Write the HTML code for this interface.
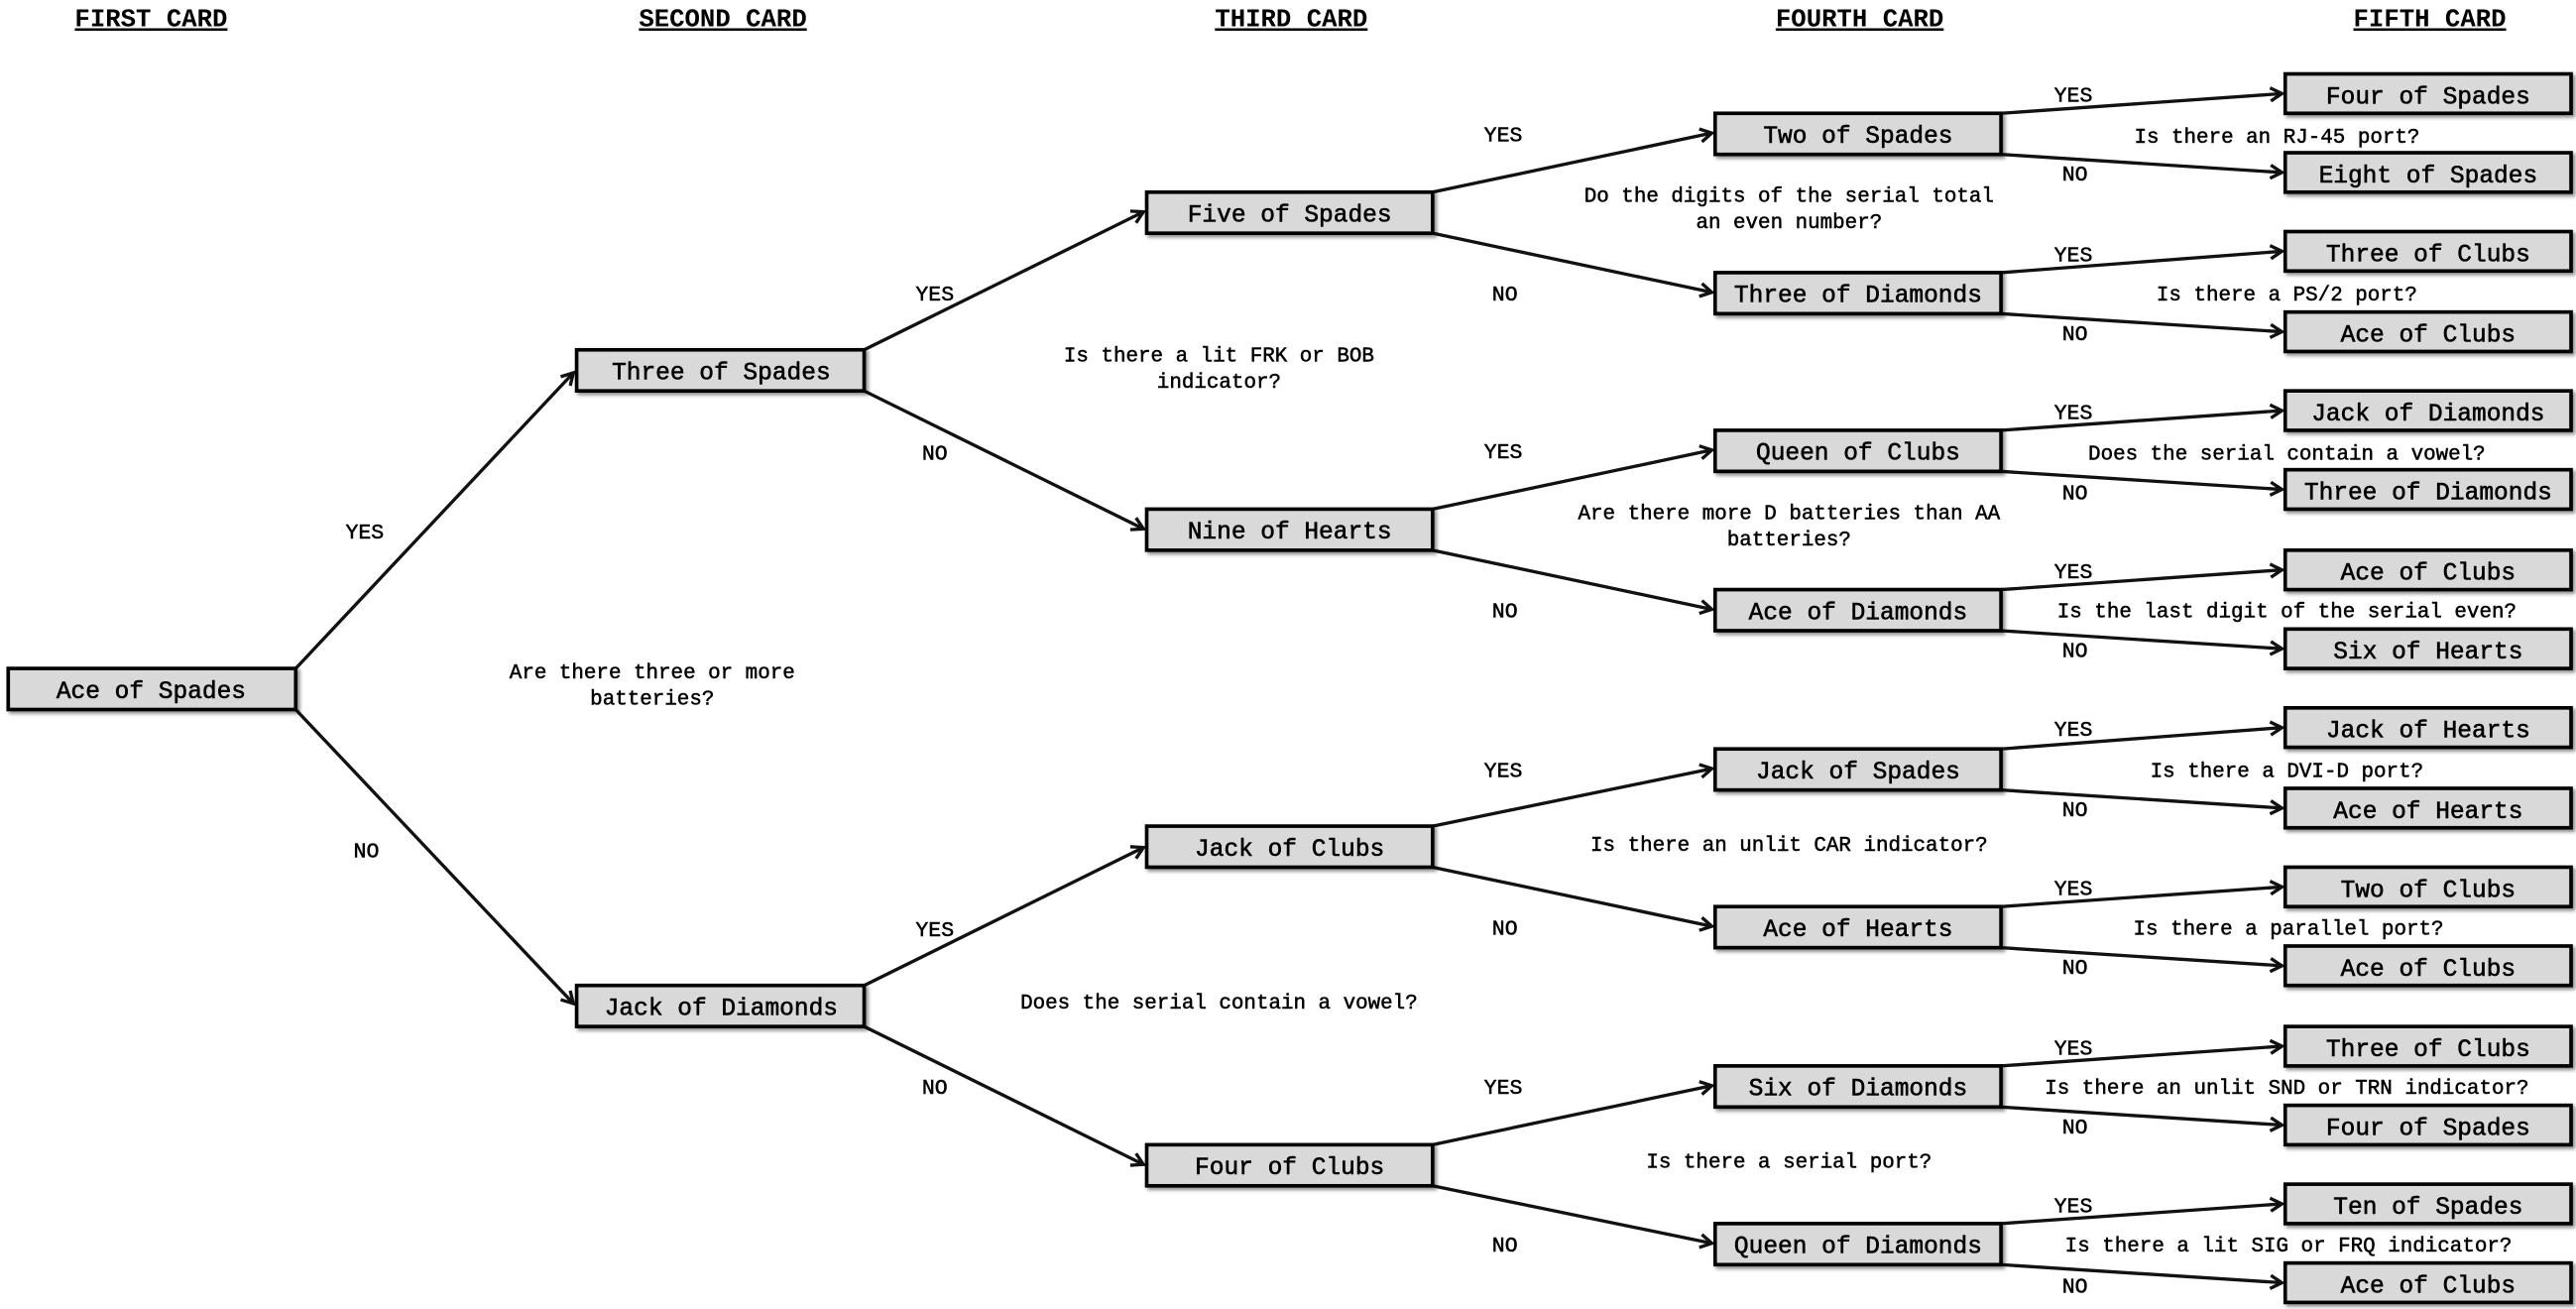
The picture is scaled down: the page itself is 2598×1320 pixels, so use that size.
<!DOCTYPE html>
<html><head><meta charset="utf-8"><style>
html,body{margin:0;padding:0;background:#fff;width:2598px;height:1320px;overflow:hidden}
svg{display:block}
text{font-family:"Liberation Mono",monospace;fill:#000}
.b{fill:#d9d9d9;stroke:#000;stroke-width:2.2}
.t{font-size:14.8px;text-anchor:middle;stroke:#000;stroke-width:0.35}
.l{font-size:13px;text-anchor:middle;stroke:#000;stroke-width:0.3}
.q{font-size:12.6px;text-anchor:middle;stroke:#000;stroke-width:0.3}
.h{font-size:15.5px;text-anchor:middle;font-weight:bold;text-decoration:underline}
.e{stroke:#111;stroke-width:2;fill:none;marker-end:url(#a)}
</style></head><body>
<svg width="2598" height="1320" viewBox="0 0 1568 797" preserveAspectRatio="none">
<defs>
<marker id="a" markerWidth="10" markerHeight="10" refX="8" refY="5" orient="auto" markerUnits="userSpaceOnUse">
<path d="M1,1 L8,5 L1,9" fill="none" stroke="#111" stroke-width="2"/></marker>
<filter id="s" x="-10%" y="-30%" width="125%" height="170%"><feDropShadow dx="1.5" dy="1.5" stdDeviation="1.2" flood-opacity="0.45"/></filter>
</defs>
<text class="h" x="92" y="16">FIRST CARD</text>
<text class="h" x="440" y="16">SECOND CARD</text>
<text class="h" x="786" y="16">THIRD CARD</text>
<text class="h" x="1132" y="16">FOURTH CARD</text>
<text class="h" x="1479" y="16">FIFTH CARD</text>

<path class="e" d="M180,407 L349,227"/><path class="e" d="M180,432 L349,611"/>
<path class="e" d="M526,213 L696,129"/><path class="e" d="M526,238 L696,322"/>
<path class="e" d="M526,600 L696,516"/><path class="e" d="M526,625 L696,709"/>
<path class="e" d="M872,117 L1042,81"/><path class="e" d="M872,142 L1042,178"/>
<path class="e" d="M872,310 L1042,274"/><path class="e" d="M872,335 L1042,371"/>
<path class="e" d="M872,503 L1042,468"/><path class="e" d="M872,528 L1042,564"/>
<path class="e" d="M872,697 L1042,661"/><path class="e" d="M872,722 L1042,757"/>
<path class="e" d="M1218,69 L1389,57"/><path class="e" d="M1218,94 L1389,105"/>
<path class="e" d="M1218,166 L1389,153"/><path class="e" d="M1218,191 L1389,202"/>
<path class="e" d="M1218,262 L1389,250"/><path class="e" d="M1218,287 L1389,298"/>
<path class="e" d="M1218,359 L1389,347"/><path class="e" d="M1218,384 L1389,395"/>
<path class="e" d="M1218,456 L1389,443"/><path class="e" d="M1218,481 L1389,492"/>
<path class="e" d="M1218,552 L1389,540"/><path class="e" d="M1218,577 L1389,588"/>
<path class="e" d="M1218,649 L1389,637"/><path class="e" d="M1218,674 L1389,685"/>
<path class="e" d="M1218,745 L1389,733"/><path class="e" d="M1218,770 L1389,781"/>

<g filter="url(#s)">
<rect class="b" x="5" y="407" width="175" height="25"/>
<rect class="b" x="351" y="213" width="175" height="25"/>
<rect class="b" x="351" y="600" width="175" height="25"/>
<rect class="b" x="698" y="117" width="174" height="25"/>
<rect class="b" x="698" y="310" width="174" height="25"/>
<rect class="b" x="698" y="503" width="174" height="25"/>
<rect class="b" x="698" y="697" width="174" height="25"/>
<rect class="b" x="1044" y="69" width="174" height="25"/>
<rect class="b" x="1044" y="166" width="174" height="25"/>
<rect class="b" x="1044" y="262" width="174" height="25"/>
<rect class="b" x="1044" y="359" width="174" height="25"/>
<rect class="b" x="1044" y="456" width="174" height="25"/>
<rect class="b" x="1044" y="552" width="174" height="25"/>
<rect class="b" x="1044" y="649" width="174" height="25"/>
<rect class="b" x="1044" y="745" width="174" height="25"/>
<rect class="b" x="1391" y="45" width="174" height="24"/>
<rect class="b" x="1391" y="93" width="174" height="24"/>
<rect class="b" x="1391" y="141" width="174" height="24"/>
<rect class="b" x="1391" y="190" width="174" height="24"/>
<rect class="b" x="1391" y="238" width="174" height="24"/>
<rect class="b" x="1391" y="286" width="174" height="24"/>
<rect class="b" x="1391" y="335" width="174" height="24"/>
<rect class="b" x="1391" y="383" width="174" height="24"/>
<rect class="b" x="1391" y="431" width="174" height="24"/>
<rect class="b" x="1391" y="480" width="174" height="24"/>
<rect class="b" x="1391" y="528" width="174" height="24"/>
<rect class="b" x="1391" y="576" width="174" height="24"/>
<rect class="b" x="1391" y="625" width="174" height="24"/>
<rect class="b" x="1391" y="673" width="174" height="24"/>
<rect class="b" x="1391" y="721" width="174" height="24"/>
<rect class="b" x="1391" y="769" width="174" height="24"/>
</g>

<text class="t" x="92" y="425">Ace of Spades</text>
<text class="t" x="439" y="231">Three of Spades</text>
<text class="t" x="439" y="618">Jack of Diamonds</text>
<text class="t" x="785" y="135">Five of Spades</text>
<text class="t" x="785" y="328">Nine of Hearts</text>
<text class="t" x="785" y="521">Jack of Clubs</text>
<text class="t" x="785" y="715">Four of Clubs</text>
<text class="t" x="1131" y="87">Two of Spades</text>
<text class="t" x="1131" y="184">Three of Diamonds</text>
<text class="t" x="1131" y="280">Queen of Clubs</text>
<text class="t" x="1131" y="377">Ace of Diamonds</text>
<text class="t" x="1131" y="474">Jack of Spades</text>
<text class="t" x="1131" y="570">Ace of Hearts</text>
<text class="t" x="1131" y="667">Six of Diamonds</text>
<text class="t" x="1131" y="763">Queen of Diamonds</text>
<text class="t" x="1478" y="63">Four of Spades</text>
<text class="t" x="1478" y="111">Eight of Spades</text>
<text class="t" x="1478" y="159">Three of Clubs</text>
<text class="t" x="1478" y="208">Ace of Clubs</text>
<text class="t" x="1478" y="256">Jack of Diamonds</text>
<text class="t" x="1478" y="304">Three of Diamonds</text>
<text class="t" x="1478" y="353">Ace of Clubs</text>
<text class="t" x="1478" y="401">Six of Hearts</text>
<text class="t" x="1478" y="449">Jack of Hearts</text>
<text class="t" x="1478" y="498">Ace of Hearts</text>
<text class="t" x="1478" y="546">Two of Clubs</text>
<text class="t" x="1478" y="594">Ace of Clubs</text>
<text class="t" x="1478" y="643">Three of Clubs</text>
<text class="t" x="1478" y="691">Four of Spades</text>
<text class="t" x="1478" y="739">Ten of Spades</text>
<text class="t" x="1478" y="787">Ace of Clubs</text>

<text class="l" x="222" y="328">YES</text><text class="l" x="223" y="522">NO</text>
<text class="l" x="569" y="183">YES</text><text class="l" x="569" y="280">NO</text>
<text class="l" x="569" y="570">YES</text><text class="l" x="569" y="666">NO</text>
<text class="l" x="915" y="86">YES</text><text class="l" x="916" y="183">NO</text>
<text class="l" x="915" y="279">YES</text><text class="l" x="916" y="376">NO</text>
<text class="l" x="915" y="473">YES</text><text class="l" x="916" y="569">NO</text>
<text class="l" x="915" y="666">YES</text><text class="l" x="916" y="762">NO</text>
<text class="l" x="1262" y="62">YES</text><text class="l" x="1263" y="110">NO</text>
<text class="l" x="1262" y="159">YES</text><text class="l" x="1263" y="207">NO</text>
<text class="l" x="1262" y="255">YES</text><text class="l" x="1263" y="304">NO</text>
<text class="l" x="1262" y="352">YES</text><text class="l" x="1263" y="400">NO</text>
<text class="l" x="1262" y="448">YES</text><text class="l" x="1263" y="497">NO</text>
<text class="l" x="1262" y="545">YES</text><text class="l" x="1263" y="593">NO</text>
<text class="l" x="1262" y="642">YES</text><text class="l" x="1263" y="690">NO</text>
<text class="l" x="1262" y="738">YES</text><text class="l" x="1263" y="787">NO</text>

<text class="q" x="397" y="413">Are there three or more</text>
<text class="q" x="397" y="429">batteries?</text>
<text class="q" x="742" y="220">Is there a lit FRK or BOB</text>
<text class="q" x="742" y="236">indicator?</text>
<text class="q" x="742" y="614">Does the serial contain a vowel?</text>
<text class="q" x="1089" y="123">Do the digits of the serial total</text>
<text class="q" x="1089" y="139">an even number?</text>
<text class="q" x="1089" y="316">Are there more D batteries than AA</text>
<text class="q" x="1089" y="332">batteries?</text>
<text class="q" x="1089" y="518">Is there an unlit CAR indicator?</text>
<text class="q" x="1089" y="711">Is there a serial port?</text>
<text class="q" x="1386" y="87">Is there an RJ-45 port?</text>
<text class="q" x="1392" y="183">Is there a PS/2 port?</text>
<text class="q" x="1392" y="280">Does the serial contain a vowel?</text>
<text class="q" x="1392" y="376">Is the last digit of the serial even?</text>
<text class="q" x="1392" y="473">Is there a DVI-D port?</text>
<text class="q" x="1393" y="569">Is there a parallel port?</text>
<text class="q" x="1392" y="666">Is there an unlit SND or TRN indicator?</text>
<text class="q" x="1393" y="762">Is there a lit SIG or FRQ indicator?</text>
</svg>
</body></html>
